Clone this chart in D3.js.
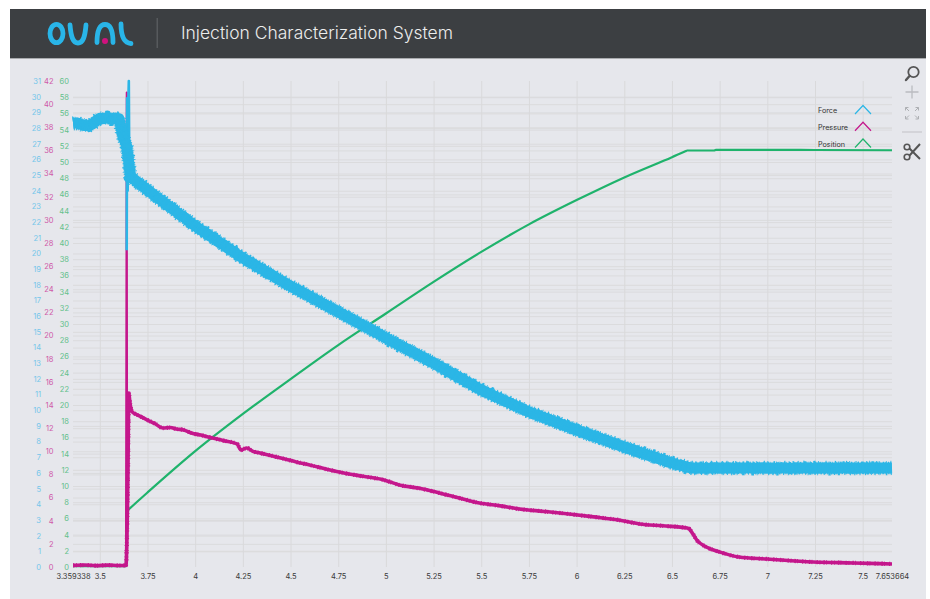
<!DOCTYPE html>
<html>
<head>
<meta charset="utf-8">
<title>Injection Characterization System</title>
<script src="https://cdn.jsdelivr.net/npm/d3@7"></script>
<style>
  html, body { margin: 0; padding: 0; background: #fff; }
  svg { display: block; }
  text { font-family: Inter, "Open Sans", sans-serif; }
  .domain { display: none; }
</style>
</head>
<body>
<svg id="chart" width="930" height="599"></svg>
<script>
const xStart = 3.359338, xEnd = 7.653664;
const xTicks = [3.5, 3.75, 4, 4.25, 4.5, 4.75, 5, 5.25, 5.5, 5.75, 6, 6.25, 6.5, 6.75, 7, 7.25, 7.5];
const xLabels = [xStart, ...xTicks, xEnd];
const forceTicks = d3.range(0, 32);
const pressureTicks = d3.range(0, 43, 2);
const positionTicks = d3.range(0, 61, 2);
const legendNames = ["Force", "Pressure", "Position"];

// force trace, drawn as a wide noisy band
const forceTime = [
  3.36, 3.38, 3.40, 3.42, 3.44, 3.46, 3.48, 3.50, 3.52, 3.54, 3.56, 3.58, 3.60, 3.61, 3.62, 3.63, 3.64, 3.65, 3.66, 3.68, 3.70, 3.725, 3.75,
  3.775, 3.80, 3.825, 3.85, 3.875, 3.90, 3.925, 3.95, 3.975, 4.00,
  4.025, 4.05, 4.075, 4.10, 4.125, 4.15, 4.175, 4.20, 4.225, 4.25,
  4.275, 4.30, 4.325, 4.35, 4.375, 4.40, 4.425, 4.45, 4.475, 4.50,
  4.525, 4.55, 4.575, 4.60, 4.625, 4.65, 4.675, 4.70, 4.725, 4.75,
  4.775, 4.80, 4.825, 4.85, 4.875, 4.90, 4.925, 4.95, 4.975, 5.00,
  5.025, 5.05, 5.075, 5.10, 5.125, 5.15, 5.175, 5.20, 5.225, 5.25,
  5.275, 5.30, 5.325, 5.35, 5.375, 5.40, 5.425, 5.45, 5.475, 5.50,
  5.525, 5.55, 5.575, 5.60, 5.625, 5.65, 5.675, 5.70, 5.725, 5.75,
  5.775, 5.80, 5.825, 5.85, 5.875, 5.90, 5.925, 5.95, 5.975, 6.00,
  6.025, 6.05, 6.075, 6.10, 6.125, 6.15, 6.175, 6.20, 6.225, 6.25,
  6.275, 6.30, 6.325, 6.35, 6.375, 6.40, 6.425, 6.45, 6.475, 6.50,
  6.525, 6.55, 6.575, 6.60, 6.625, 6.65, 6.675, 6.70, 6.725, 6.75,
  6.775, 6.80, 6.825, 6.85, 6.875, 6.90, 6.925, 6.95, 6.975, 7.00,
  7.025, 7.05, 7.075, 7.10, 7.125, 7.15, 7.175, 7.20, 7.225, 7.25,
  7.275, 7.30, 7.325, 7.35, 7.375, 7.40, 7.425, 7.45, 7.475, 7.50,
  7.525, 7.55, 7.575, 7.60, 7.625, 7.653664
];
const forceValue = [
  28.30, 28.33, 28.24, 28.16, 28.14, 28.24, 28.46, 28.62, 28.60, 28.66, 28.58, 28.64, 28.60, 28.10, 27.50, 27.20, 26.90, 26.00, 24.90, 24.72, 24.50, 24.30, 24.04,
  23.83, 23.56, 23.38, 23.10, 22.93, 22.67, 22.42, 22.24, 21.96, 21.77,
  21.53, 21.36, 21.12, 20.97, 20.71, 20.55, 20.30, 20.14, 19.89, 19.72,
  19.51, 19.37, 19.15, 19.01, 18.78, 18.65, 18.43, 18.28, 18.06, 17.92,
  17.75, 17.60, 17.42, 17.27, 17.09, 16.94, 16.76, 16.61, 16.43, 16.28,
  16.10, 15.95, 15.77, 15.62, 15.44, 15.29, 15.11, 14.96, 14.78, 14.62,
  14.42, 14.30, 14.10, 13.98, 13.78, 13.67, 13.47, 13.35, 13.15, 13.03,
  12.82, 12.69, 12.47, 12.34, 12.13, 12.00, 11.79, 11.65, 11.44, 11.31,
  11.13, 11.03, 10.85, 10.75, 10.57, 10.47, 10.29, 10.19, 10.01, 9.91,
  9.76, 9.68, 9.53, 9.45, 9.30, 9.22, 9.07, 8.99, 8.84, 8.76,
  8.61, 8.54, 8.39, 8.32, 8.18, 8.11, 7.96, 7.89, 7.74, 7.67,
  7.53, 7.47, 7.32, 7.26, 7.12, 7.06, 6.92, 6.85, 6.71, 6.65,
  6.53, 6.49, 6.37, 6.33, 6.30, 6.33, 6.29, 6.31, 6.34, 6.30,
  6.32, 6.33, 6.29, 6.33, 6.30, 6.34, 6.29, 6.31, 6.33, 6.30,
  6.32, 6.29, 6.34, 6.31, 6.29, 6.33, 6.30, 6.34, 6.29, 6.32,
  6.30, 6.33, 6.29, 6.32, 6.30, 6.34, 6.30, 6.32, 6.29, 6.33,
  6.30, 6.34, 6.30, 6.32, 6.31, 6.32
];
// the narrow force spike at the start of injection
const forceSpikeTime = [3.641, 3.643, 3.646, 3.650, 3.652, 3.655];
const forceSpikeValue = [20.2, 29.9, 24.0, 30.0, 31.0, 24.5];

const pressureTime = [
  3.36, 3.42, 3.48, 3.54, 3.60, 3.637, 3.648, 3.652, 3.658, 3.67, 3.69, 3.72, 3.75,
  3.79, 3.83, 3.87, 3.90, 3.94, 3.98, 4.03, 4.09, 4.15, 4.22, 4.24, 4.27, 4.30, 4.34,
  4.40, 4.47, 4.53, 4.60, 4.69, 4.78, 4.88, 4.99, 5.07, 5.17, 5.28, 5.38, 5.49, 5.60, 5.70,
  5.83, 5.96, 6.09, 6.22, 6.33, 6.45, 6.58, 6.59, 6.61, 6.63, 6.68, 6.75, 6.85, 7.00, 7.24, 7.45, 7.653664
];
const pressureValue = [
  0.14, 0.17, 0.12, 0.16, 0.13, 0.14, 9.0, 15.0, 14.2, 13.4, 13.2, 12.95, 12.70,
  12.38, 12.01, 12.05, 11.93, 11.85, 11.58, 11.40, 11.15, 10.92, 10.63, 10.11, 10.29, 10.02, 9.85,
  9.62, 9.33, 9.08, 8.82, 8.44, 8.12, 7.84, 7.52, 7.09, 6.82, 6.40, 5.98, 5.53, 5.28, 5.01,
  4.80, 4.58, 4.33, 4.06, 3.72, 3.56, 3.37, 3.30, 2.85, 2.33, 1.73, 1.30, 0.86, 0.69, 0.43, 0.35, 0.26
];
const pressureSpikeTime = [3.637, 3.641, 3.643];
const pressureSpikeValue = [0.1, 41.0, 9.0];

// position: flat start and the jump, then the long travel and the hold
const positionJumpTime = [3.36, 3.637, 3.643, 3.645, 3.648];
const positionJumpValue = [0.1, 0.1, 8.1, 5.5, 7.04];
const positionTime = [
  3.648, 3.70, 3.75, 4.00, 4.25, 4.50, 4.75, 5.00, 5.25, 5.50, 5.75, 6.00, 6.25, 6.50, 6.57, 6.58,
  6.59, 6.72, 6.73, 6.85, 7.25, 7.653664
];
const positionValue = [
  7.04, 8.15, 9.20, 14.30, 18.90, 23.20, 27.40, 31.30, 35.20, 38.90, 42.30, 45.30, 48.10, 50.60, 51.32, 51.42,
  51.42, 51.42, 51.50, 51.50, 51.48, 51.45
];

const colors = { force: "#2bb6e6", pressure: "#c4178c", position: "#1fb36c" };
const labelColors = { force: "#74c6ea", pressure: "#cf58a8", position: "#62c08a" };

const svg = d3.select("#chart");

// page frame and header
svg.append("rect").attr("x", 10).attr("y", 9).attr("width", 916).attr("height", 590).attr("fill", "#e6e7ec");
svg.append("rect").attr("x", 10).attr("y", 9).attr("width", 916).attr("height", 49).attr("fill", "#3c3f42");
svg.append("rect").attr("x", 10).attr("y", 58).attr("width", 916).attr("height", 1).attr("fill", "#a9abae");
svg.append("rect").attr("x", 156.5).attr("y", 18).attr("width", 1.5).attr("height", 30).attr("fill", "#575a5d");
svg.append("text").attr("x", 181).attr("y", 39)
  .attr("textLength", 272).attr("lengthAdjust", "spacingAndGlyphs")
  .attr("font-size", 17).attr("font-weight", 300).attr("fill", "#eceded")
  .text("Injection Characterization System");

// logo
const logo = svg.append("g").attr("fill", "none").attr("stroke", "#29b5e8").attr("stroke-width", 4.8).attr("stroke-linecap", "round");
logo.append("ellipse").attr("cx", 56.5).attr("cy", 33.5).attr("rx", 6.5).attr("ry", 9.2);
logo.append("path").attr("d", "M70 25 C71 37 73 43 78 43 C83 43 85 37 86 25");
logo.append("path").attr("d", "M97 42.5 C97 30 100 24.5 105 24.5 C110 24.5 113 30 113 42.5");
logo.append("path").attr("d", "M121 24 C121 36 124 43 131 43.5");
svg.append("circle").attr("cx", 105).attr("cy", 41).attr("r", 3).attr("fill", "#d0127e");

// scales
const x = d3.scaleLinear().domain([xStart, xEnd]).range([73, 892]);
const yForce = d3.scaleLinear().domain([0, 31]).range([567, 81]);
const yPressure = d3.scaleLinear().domain([0, 42]).range([567, 81]);
const yPosition = d3.scaleLinear().domain([0, 60]).range([567, 81]);

// grid: every tick of all three value axes draws a line
function hGrid(scale, ticks) {
  svg.append("g").attr("transform", "translate(73,0)")
    .call(d3.axisLeft(scale).tickValues(ticks.filter(d => scale(d) > 81 && d !== 0)).tickSize(-819).tickFormat(""))
    .selectAll(".tick line").attr("stroke", "#dbdbdd").attr("stroke-width", 1);
}
hGrid(yForce, forceTicks);
hGrid(yPressure, pressureTicks);
hGrid(yPosition, positionTicks);

svg.append("g").attr("transform", "translate(0,567)")
  .call(d3.axisBottom(x).tickValues(xTicks).tickSize(-486).tickFormat(""))
  .selectAll(".tick line").attr("stroke", "#d9d9db").attr("stroke-width", 1);

// axes
function valueAxis(scale, ticks, right, color) {
  const g = svg.append("g").attr("transform", `translate(${right},0)`)
    .call(d3.axisLeft(scale).tickValues(ticks).tickSize(0).tickPadding(0).tickFormat(d3.format("d")));
  g.selectAll("text").attr("fill", color).attr("font-size", 7.5);
  g.selectAll("line").remove();
}
valueAxis(yForce, forceTicks, 41, labelColors.force);
valueAxis(yPressure, pressureTicks, 53.5, labelColors.pressure);
valueAxis(yPosition, positionTicks, 69, labelColors.position);

const xAxis = svg.append("g").attr("transform", "translate(0,567)")
  .call(d3.axisBottom(x).tickValues(xLabels).tickSize(0).tickPadding(7).tickFormat(d => String(d)));
xAxis.selectAll("text").attr("fill", "#3a3a3a").attr("font-size", 7.5);
xAxis.selectAll("line").remove();

// traces
function trace(times, values, scale, color, width, curve, dash) {
  const line = d3.line().x(d => x(d[0])).y(d => scale(d[1])).curve(curve || d3.curveLinear);
  const path = svg.append("path")
    .attr("d", line(d3.zip(times, values)))
    .attr("fill", "none").attr("stroke", color).attr("stroke-width", width)
    .attr("stroke-linejoin", "round");
  if (dash) path.attr("stroke-dasharray", dash);
}
trace(positionJumpTime, positionJumpValue, yPosition, colors.position, 2.2);
trace(positionTime, positionValue, yPosition, colors.position, 2.2, d3.curveMonotoneX);
trace(pressureSpikeTime, pressureSpikeValue, yPressure, colors.pressure, 2);
trace(pressureTime, pressureValue, yPressure, colors.pressure, 3.6, d3.curveMonotoneX);
trace(pressureTime, pressureValue, yPressure, colors.pressure, 4.3, d3.curveMonotoneX, "1.1 1.9 0.7 3.1 1.4 1.2 0.8 4.3");
trace(forceSpikeTime, forceSpikeValue, yForce, colors.force, 2.6);
trace(forceTime, forceValue, yForce, colors.force, 11);
// dashed wider copies give the band its fine noisy edge
trace(forceTime, forceValue, yForce, colors.force, 12.6, d3.curveLinear, "1.2 1.1 0.8 1.9 1.5 0.9 0.7 2.4");
trace(forceTime, forceValue, yForce, colors.force, 14.2, d3.curveLinear, "0.9 4.3 1.2 2.7 0.8 6.1 1.1 3.5");

// legend
const legendColors = [colors.force, colors.pressure, colors.position];
const legendY = d3.scalePoint().domain(legendNames).range([110.5, 144]);
legendNames.forEach((name, i) => {
  const y0 = legendY(name);
  svg.append("text").attr("x", 818).attr("y", y0 + 2.5).attr("font-size", 7.2).attr("fill", "#333").text(name);
  svg.append("path").attr("d", `M855 ${y0 + 3.5} L863 ${y0 - 5} L871 ${y0 + 3.5}`)
    .attr("fill", "none").attr("stroke", legendColors[i]).attr("stroke-width", 1.2);
});

// toolbar icons
const tools = svg.append("g").attr("fill", "none");
tools.append("circle").attr("cx", 913.5).attr("cy", 72).attr("r", 5.2).attr("stroke", "#555").attr("stroke-width", 1.8);
tools.append("path").attr("d", "M909.5 76 L906 80").attr("stroke", "#555").attr("stroke-width", 2.4).attr("stroke-linecap", "round");
tools.append("path").attr("d", "M912 85.5 V98.5 M905.5 92 H918.5").attr("stroke", "#bbbcc0").attr("stroke-width", 1.3);
tools.append("path").attr("d", "M905.5 107.5 L909 111 M905.5 107.5 H908.5 M905.5 107.5 V110.5 M918.5 107.5 L915 111 M918.5 107.5 H915.5 M918.5 107.5 V110.5 M905.5 119 L909 115.5 M905.5 119 H908.5 M905.5 119 V116 M918.5 119 L915 115.5 M918.5 119 H915.5 M918.5 119 V116")
  .attr("stroke", "#aeb0b4").attr("stroke-width", 1);
tools.append("path").attr("d", "M902 132 H922").attr("stroke", "#c8c9cd").attr("stroke-width", 1.2);
tools.append("circle").attr("cx", 907).attr("cy", 147).attr("r", 2.8).attr("stroke", "#555").attr("stroke-width", 1.6);
tools.append("circle").attr("cx", 907).attr("cy", 157).attr("r", 2.8).attr("stroke", "#555").attr("stroke-width", 1.6);
tools.append("path").attr("d", "M909.5 148.5 L920 159 M909.5 155.5 L920 144").attr("stroke", "#555").attr("stroke-width", 2);
</script>
</body>
</html>
